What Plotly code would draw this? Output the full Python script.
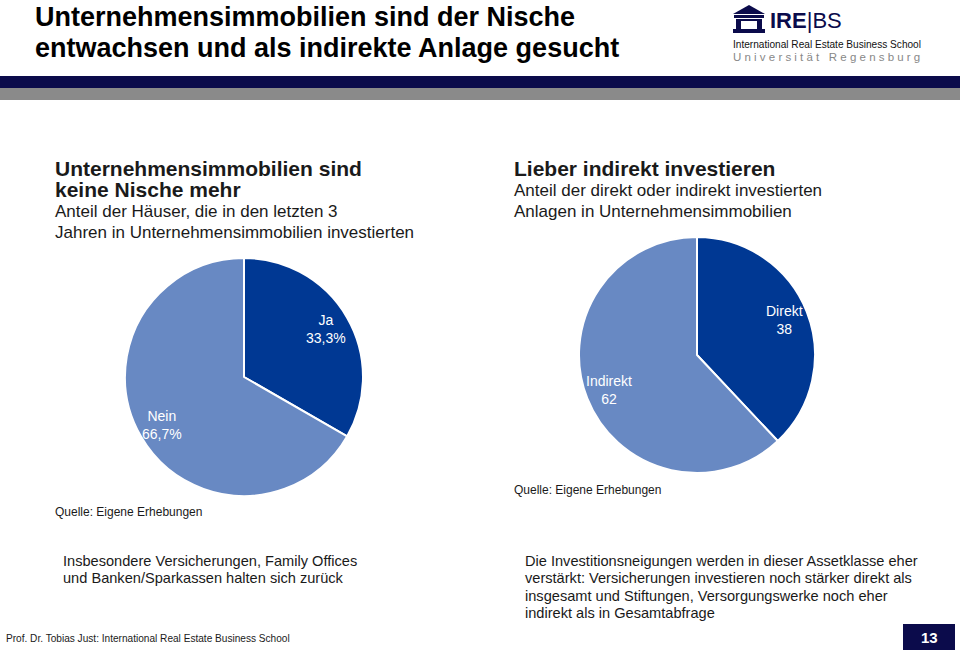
import math
import plotly.graph_objects as go

# ---- data ----
pie1_labels = ["Ja", "Nein"]
pie1_values = [33.3, 66.7]
pie1_text = ["33,3%", "66,7%"]

pie2_labels = ["Direkt", "Indirekt"]
pie2_values = [38, 62]
pie2_text = ["38", "62"]

DARK = "#003893"
LIGHT = "#6889C3"
NAVY = "#0B0B4B"
TXT = "#1a1a1a"
W, H = 960, 650
FONT = "Liberation Sans, Arial, sans-serif"

def px(x):
    return x / W

def py(y):
    return 1 - y / H

fig = go.Figure()

# pie geometry (pixels): center and radius
pies = [
    dict(labels=pie1_labels, values=pie1_values, text=pie1_text, cx=244, cy=377, r=119),
    dict(labels=pie2_labels, values=pie2_values, text=pie2_text, cx=697, cy=355, r=118),
]

annotations = []
for p in pies:
    fig.add_trace(go.Pie(
        labels=p["labels"], values=p["values"],
        sort=False, direction="clockwise", rotation=0,
        marker=dict(colors=[DARK, LIGHT], line=dict(color="white", width=2)),
        textinfo="none", hoverinfo="label+value",
        showlegend=False,
        domain=dict(x=[px(p["cx"] - p["r"]), px(p["cx"] + p["r"])],
                    y=[py(p["cy"] + p["r"]), py(p["cy"] - p["r"])]),
    ))
    total = sum(p["values"])
    start = 0.0
    for lab, val, t in zip(p["labels"], p["values"], p["text"]):
        mid = start + val / total * 360 / 2
        start += val / total * 360
        a = math.radians(mid)
        rr = 0.8 * p["r"]
        x = p["cx"] + rr * math.sin(a)
        y = p["cy"] - rr * math.cos(a)
        annotations.append(dict(
            x=px(x), y=py(y), xref="paper", yref="paper",
            text=f"{lab}<br>{t}", showarrow=False,
            font=dict(family=FONT, size=14, color="white"),
            align="center", xanchor="center", yanchor="middle",
        ))

def txt(x, y, s, size, bold=False, color=TXT, anchor="left"):
    if bold:
        s = f"<b>{s}</b>"
    annotations.append(dict(
        x=px(x), y=py(y), xref="paper", yref="paper", text=s,
        showarrow=False, xanchor=anchor, yanchor="middle", align="left",
        font=dict(family=FONT, size=size, color=color),
    ))

# Title
txt(33, 17, "Unternehmensimmobilien sind der Nische", 27, bold=True, color="#000")
txt(33, 48, "entwachsen und als indirekte Anlage gesucht", 27, bold=True, color="#000")

# Logo
txt(768, 20, "<b>IRE</b>|BS", 22, bold=False, color=NAVY)
txt(731, 45, "International Real Estate Business School", 10.1, color="#111")
txt(731, 57, "U n i v e r s i t ä t   R e g e n s b u r g", 11.5, color="#888")

# Left headings
txt(53, 168, "Unternehmensimmobilien sind", 21, bold=True)
txt(53, 189, "keine Nische mehr", 21, bold=True)
txt(53, 212, "Anteil der Häuser, die in den letzten 3", 17)
txt(53, 233, "Jahren in Unternehmensimmobilien investierten", 17)

# Right headings
txt(512, 168, "Lieber indirekt investieren", 21, bold=True)
txt(512, 190, "Anteil der direkt oder indirekt investierten", 17)
txt(512, 212, "Anlagen in Unternehmensimmobilien", 17)

# Sources
txt(53, 512, "Quelle: Eigene Erhebungen", 12)
txt(512, 490, "Quelle: Eigene Erhebungen", 12)

# Bottom text
txt(61, 561, "Insbesondere Versicherungen, Family Offices", 14.6)
txt(61, 578, "und Banken/Sparkassen halten sich zurück", 14.6)
txt(523, 561, "Die Investitionsneigungen werden in dieser Assetklasse eher", 14.6)
txt(523, 578, "verstärkt: Versicherungen investieren noch stärker direkt als", 14.6)
txt(523, 596, "insgesamt und Stiftungen, Versorgungswerke noch eher", 14.6)
txt(523, 613, "indirekt als in Gesamtabfrage", 14.6)

# Footer
txt(4, 638, "Prof. Dr. Tobias Just: International Real Estate Business School", 10.1)
txt(929, 637, "13", 15, bold=True, color="white", anchor="center")

shapes = [
    # header bands
    dict(type="rect", xref="paper", yref="paper", x0=0, x1=1, y0=py(88), y1=py(76),
         fillcolor=NAVY, line=dict(width=0), layer="below"),
    dict(type="rect", xref="paper", yref="paper", x0=0, x1=1, y0=py(100), y1=py(88),
         fillcolor="#8A8A8A", line=dict(width=0), layer="below"),
    # page number box
    dict(type="rect", xref="paper", yref="paper", x0=px(903), x1=px(955), y0=py(650), y1=py(624),
         fillcolor=NAVY, line=dict(width=0), layer="below"),
    # logo icon
    dict(type="path", xref="paper", yref="paper",
         path=f"M {px(733)},{py(14)} L {px(749)},{py(5)} L {px(765)},{py(14)} Z",
         fillcolor=NAVY, line=dict(width=0)),
    dict(type="rect", xref="paper", yref="paper", x0=px(734), x1=px(764), y0=py(18), y1=py(15),
         fillcolor=NAVY, line=dict(width=0)),
    dict(type="rect", xref="paper", yref="paper", x0=px(736), x1=px(741), y0=py(29), y1=py(19),
         fillcolor=NAVY, line=dict(width=0)),
    dict(type="rect", xref="paper", yref="paper", x0=px(757), x1=px(762), y0=py(29), y1=py(19),
         fillcolor=NAVY, line=dict(width=0)),
    dict(type="rect", xref="paper", yref="paper", x0=px(741), x1=px(757), y0=py(21), y1=py(19),
         fillcolor=NAVY, line=dict(width=0)),
    dict(type="rect", xref="paper", yref="paper", x0=px(733), x1=px(765), y0=py(33), y1=py(29),
         fillcolor=NAVY, line=dict(width=0)),
]

fig.update_layout(
    width=W, height=H,
    margin=dict(l=0, r=0, t=0, b=0),
    paper_bgcolor="white", plot_bgcolor="white",
    annotations=annotations, shapes=shapes,
    font=dict(family=FONT),
)

fig.write_html(
    "out.html",
    config={"displayModeBar": False},
    post_script="document.body.style.margin='0';document.body.style.overflow='hidden';",
)
